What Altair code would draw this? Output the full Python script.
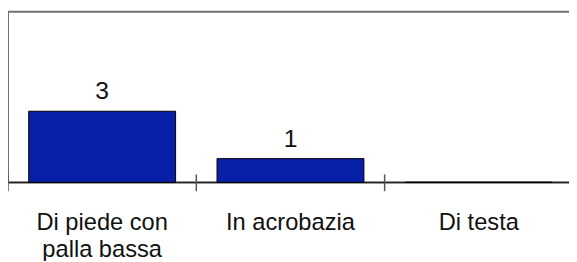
import altair as alt
import pandas as pd

categories = ["Di piede con palla bassa", "In acrobazia", "Di testa"]
values = [3, 1, 0]
value_labels = ["3", "1", ""]

df = pd.DataFrame({"cat": categories, "val": values, "lab": value_labels})

FONT = "Liberation Sans"
y_scale = alt.Scale(domain=[0, 7.2], nice=False, zero=True)
x_scale = alt.Scale(paddingInner=0, paddingOuter=0)

label_expr = ("datum.value == 'Di piede con palla bassa' ? "
              "['Di piede con', 'palla bassa'] : datum.value")

x_axis = alt.Axis(title=None, labelAngle=0, ticks=False, domain=True,
                  domainColor="black", domainWidth=1,
                  labelFont=FONT, labelFontSize=24, labelColor="#111",
                  labelPadding=29, labelLineHeight=27,
                  labelBaseline="top", labelExpr=label_expr)

bars = alt.Chart(df).mark_bar(
    width={"band": 0.78}, color="#0820a8", stroke="black", strokeWidth=1
).encode(
    x=alt.X("cat:N", sort=categories, scale=x_scale, axis=x_axis),
    y=alt.Y("val:Q", scale=y_scale, axis=None),
)

text = alt.Chart(df).mark_text(
    dy=-12, baseline="alphabetic", fontSize=25, font=FONT, color="#111"
).encode(
    x=alt.X("cat:N", sort=categories, scale=x_scale, axis=x_axis),
    y=alt.Y("val:Q", scale=y_scale, axis=None),
    text="lab:N",
)

ticks = alt.Chart(df).mark_rule(color="#555", strokeWidth=1.5).encode(
    x=alt.X("cat:N", sort=categories, scale=x_scale, axis=x_axis, bandPosition=0),
    y=alt.value(165),
    y2=alt.value(182),
)

chart = alt.layer(bars, ticks, text).properties(
    width=573, height=173,
    padding={"left": 0, "top": 2, "right": -4, "bottom": 78},
    autosize=alt.AutoSizeParams(type="none"),
    background="white",
).configure_view(
    stroke="#707070", strokeWidth=2
)

chart.save("out.html", embed_options={"renderer": "svg", "actions": False})
